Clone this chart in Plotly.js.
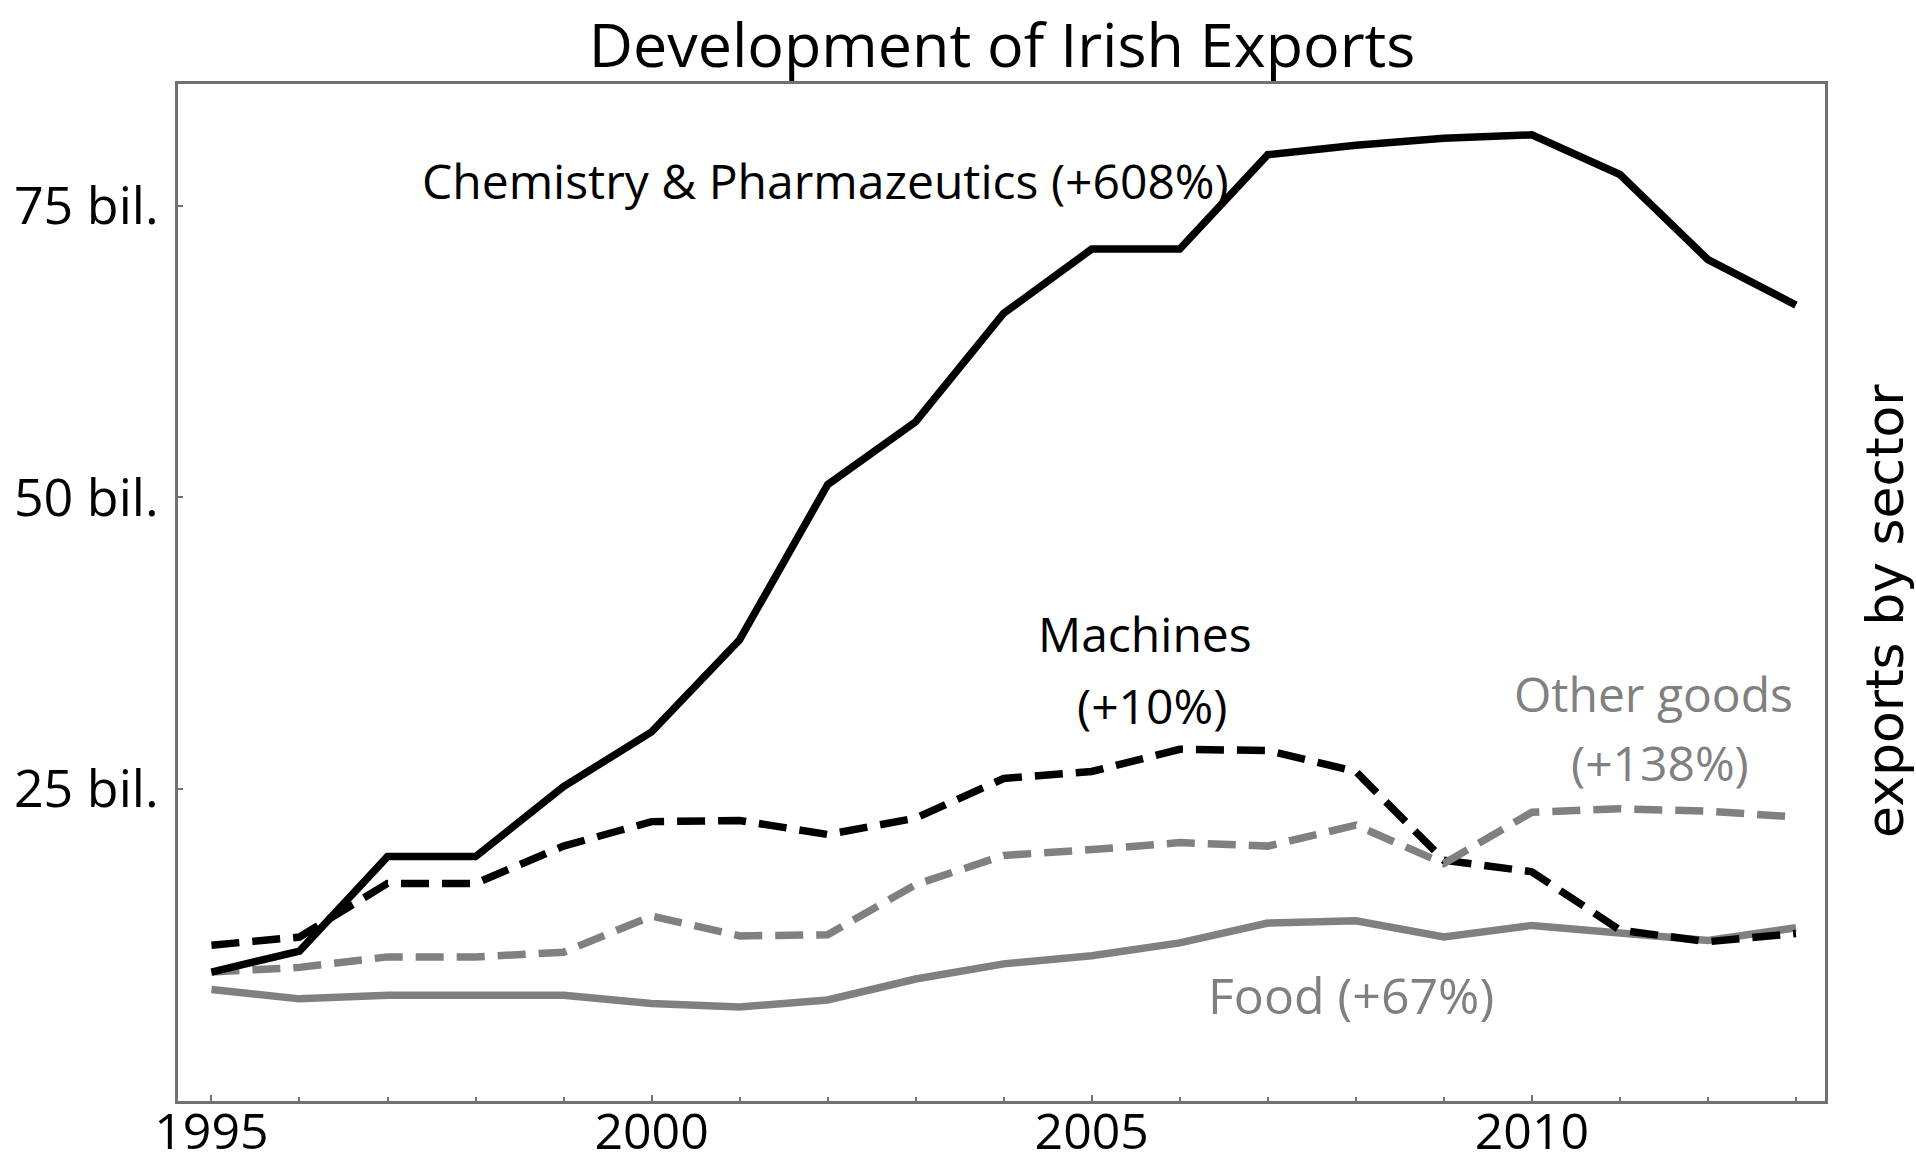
<!DOCTYPE html>
<html>
<head>
<meta charset="utf-8">
<script src="https://cdn.plot.ly/plotly-3.0.1.min.js"></script>
<style>html,body{margin:0;padding:0;background:#fff;}#chart{width:1916px;height:1168px;}</style>
</head>
<body>
<div id="chart"></div>
<script>
const years = [1995,1996,1997,1998,1999,2000,2001,2002,2003,2004,2005,2006,2007,2008,2009,2010,2011,2012,2013];
const chemistry = [9.3,11.1,19.2,19.2,25.2,29.9,37.8,51.1,56.5,65.8,71.3,71.3,79.4,80.2,80.8,81.1,77.7,70.4,66.5];
const machines = [11.6,12.3,16.9,16.9,20.1,22.2,22.3,21.1,22.5,25.9,26.5,28.4,28.3,26.5,18.9,17.9,12.9,11.9,12.6];
const otherGoods = [9.3,9.7,10.6,10.6,11.0,14.1,12.4,12.5,16.8,19.3,19.8,20.4,20.1,21.9,18.6,23.0,23.3,23.1,22.6];
const food = [7.8,7.0,7.3,7.3,7.3,6.6,6.3,6.9,8.7,10.0,10.7,11.8,13.5,13.7,12.3,13.3,12.6,12.0,13.1];
const yTickVals = [25,50,75];
const yTickText = ['25 bil.','50 bil.','75 bil.'];
const xTickVals = [1995,2000,2005,2010];

const BLACK = '#000000', GRAY = '#808080', FRAME = '#707070';
const FONT = 'Open Sans, sans-serif';
const LW = 7.5;
const DASH = '28px,13px';

const traces = [
  {x: years, y: food, mode: 'lines', line: {color: GRAY, width: LW}, name: 'Food'},
  {x: years, y: machines, mode: 'lines', line: {color: BLACK, width: LW, dash: DASH}, name: 'Machines'},
  {x: years, y: otherGoods, mode: 'lines', line: {color: GRAY, width: LW, dash: DASH}, name: 'Other goods'},
  {x: years, y: chemistry, mode: 'lines', line: {color: BLACK, width: LW}, name: 'Chemistry & Pharmazeutics'}
];

const ann = (text, x, y, color, size) => ({text, x, y, xref: 'x', yref: 'y', showarrow: false,
  font: {family: FONT, size, color}, xanchor: 'center', yanchor: 'middle'});

const layout = {
  width: 1916, height: 1168,
  margin: {l: 178, r: 91, t: 84, b: 67},
  paper_bgcolor: '#ffffff', plot_bgcolor: '#ffffff',
  showlegend: false,
  font: {family: FONT, color: BLACK},
  title: {text: 'Development of Irish Exports', x: 0.523, xref: 'container', y: 0.9606, yref: 'container',
          xanchor: 'center', yanchor: 'middle', font: {family: FONT, size: 61, color: BLACK}},
  xaxis: {range: [1994.62, 2013.33], showgrid: false, zeroline: false,
          showline: true, linecolor: FRAME, linewidth: 3, mirror: true,
          ticks: 'inside', ticklen: 6, tickwidth: 2, tickcolor: FRAME,
          tickmode: 'array', tickvals: xTickVals, ticktext: xTickVals.map(String),
          minor: {dtick: 1, tick0: 1995, ticks: 'inside', ticklen: 4, tickwidth: 2, tickcolor: FRAME},
          tickfont: {family: FONT, size: 50, color: BLACK}, ticklabelstandoff: -15},
  yaxis: {range: [-1.76, 85.46], showgrid: false, zeroline: false,
          showline: true, linecolor: FRAME, linewidth: 3, mirror: true,
          ticks: 'inside', ticklen: 5, tickwidth: 2, tickcolor: FRAME,
          tickmode: 'array', tickvals: yTickVals, ticktext: yTickText,
          tickfont: {family: FONT, size: 52, color: BLACK}, ticklabelstandoff: 6},
  annotations: [
    ann('Chemistry &amp; Pharmazeutics (+608%)', 2001.97, 77.2, BLACK, 48),
    ann('Machines', 2005.61, 38.3, BLACK, 48),
    ann('(+10%)', 2005.68, 32.2, BLACK, 48),
    ann('Other goods', 2011.38, 33.2, GRAY, 48),
    ann('(+138%)', 2011.45, 27.3, GRAY, 48),
    ann('Food (+67%)', 2007.95, 7.33, GRAY, 50),
    {text: 'exports by sector', xref: 'paper', yref: 'paper', x: 1.0365, y: 0.482, showarrow: false,
     textangle: -90, xanchor: 'center', yanchor: 'middle', font: {family: 'DejaVu Sans, sans-serif', size: 52, color: BLACK}}
  ]
};

Plotly.newPlot('chart', traces, layout, {staticPlot: true, displayModeBar: false});
</script>
</body>
</html>
